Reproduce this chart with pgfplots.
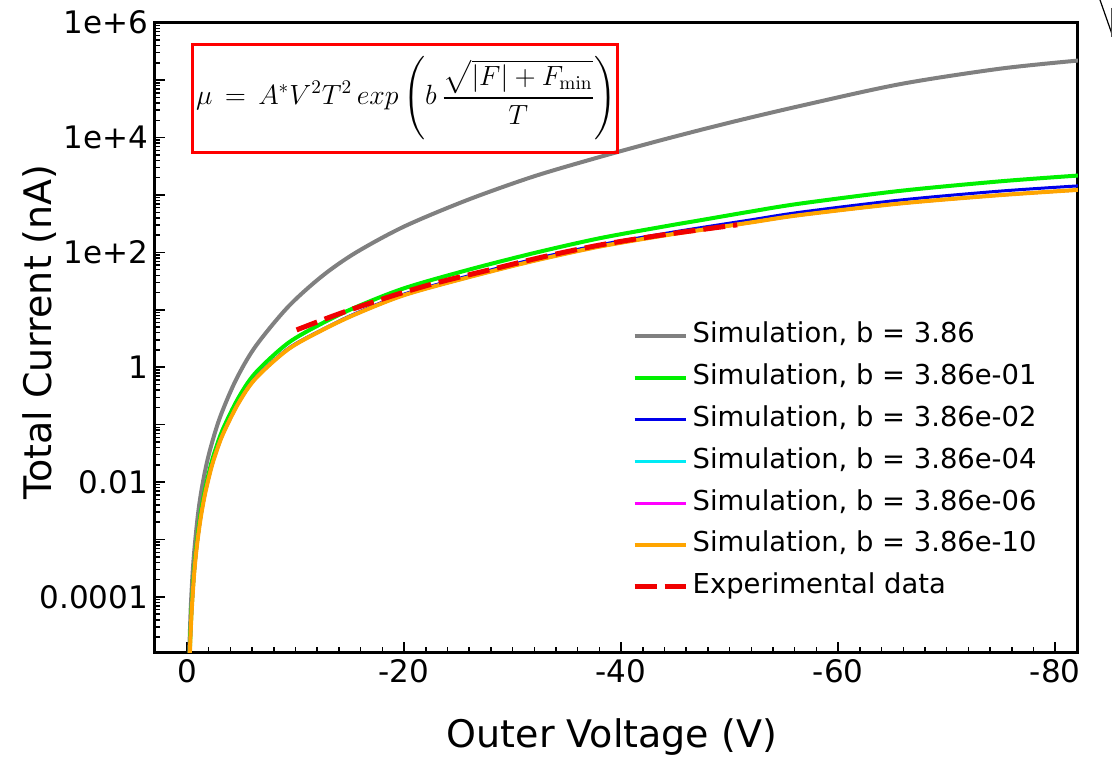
\documentclass[border=0pt]{standalone}
\usepackage[no-math]{fontspec}
\setmainfont{DejaVu Sans}
\usepackage{amsmath}
\usepackage{pgfplots}
\pgfplotsset{compat=1.18}

\definecolor{simgray}{RGB}{128,128,128}
\definecolor{simgreen}{RGB}{0,240,0}
\definecolor{simblue}{RGB}{0,0,235}
\definecolor{simcyan}{RGB}{0,235,245}
\definecolor{simmagenta}{RGB}{255,0,255}
\definecolor{simorange}{RGB}{255,165,0}
\definecolor{expred}{RGB}{240,0,0}

% the three nearly identical low-b curves (cyan, magenta, orange)
\pgfplotstableread{
V       I
-0.2    3.9e-6
-0.3    1.6e-5
-0.43   5.6e-5
-0.65   2.4e-4
-0.9    7.4e-4
-1.25   2.3e-3
-1.66   6.2e-3
-2.2    0.0166
-2.6    0.0295
-3.3    0.0676
-4.7    0.229
-6.3    0.631
-9.3    2.04
-12.4   4.37
-15.5   8.32
-20     18.0
-25.8   36.3
-31.9   70.8
-38     126
-44.2   200
-47.3   245
-51.9   331
-56.5   447
-65.7   710
-74.9   993
-82.1   1225
}\lowb

\begin{document}
\begin{tikzpicture}
  \path[use as bounding box] (-77.5pt,-53pt) rectangle (478.5pt,326pt);
  \begin{axis}[
      at={(0pt,0pt)}, anchor=south west,
      width=461.5pt, height=314.65pt, scale only axis,
      xmin=-82.1, xmax=2.95, x dir=reverse,
      ymode=log, ymin=1.1e-5, ymax=1e6,
      xtick={0,-20,-40,-60,-80},
      xticklabels={0,-20,-40,-60,-80},
      minor x tick num=9,
      ytick={1e-4,1e-3,1e-2,1e-1,1,1e1,1e2,1e3,1e4,1e5,1e6},
      yticklabels={0.0001,,0.01,,1,,1e+2,,1e+4,,1e+6},
      minor ytick={2e-5,3e-5,4e-5,5e-5,6e-5,7e-5,8e-5,9e-5,
        2e-4,3e-4,4e-4,5e-4,6e-4,7e-4,8e-4,9e-4,
        2e-3,3e-3,4e-3,5e-3,6e-3,7e-3,8e-3,9e-3,
        2e-2,3e-2,4e-2,5e-2,6e-2,7e-2,8e-2,9e-2,
        0.2,0.3,0.4,0.5,0.6,0.7,0.8,0.9,
        2,3,4,5,6,7,8,9,
        20,30,40,50,60,70,80,90,
        200,300,400,500,600,700,800,900,
        2e3,3e3,4e3,5e3,6e3,7e3,8e3,9e3,
        2e4,3e4,4e4,5e4,6e4,7e4,8e4,9e4,
        2e5,3e5,4e5,5e5,6e5,7e5,8e5,9e5},
      tick pos=left,
      tick align=inside,
      major tick length=5pt, minor tick length=2.5pt,
      every tick/.style={black, line width=0.75pt},
      axis line style={line width=1.5pt},
      ticklabel style={font=\fontsize{15.5}{18}\selectfont},
      xlabel={Outer Voltage (V)},
      ylabel={Total Current (nA)},
      label style={font=\fontsize{19}{22}\selectfont},
      xlabel style={at={(axis description cs:0.495,-0.135)}, anchor=center},
      ylabel style={at={(axis description cs:-0.1246,0.5085)}, anchor=center},
      legend cell align=left,
      legend image code/.code={\draw[#1] (0pt,0pt) -- (25.8pt,0pt);},
      legend style={
        draw=none, fill=none, inner sep=0pt,
        at={(axis description cs:0.5165,0.5235)}, anchor=north west,
        font=\fontsize{13.7}{16}\selectfont,
        row sep=7.9pt,
        nodes={inner ysep=0pt, text height=10pt, text depth=3pt},
      },
    ]
    % b = 3.86
    \addplot[simgray, line width=2pt, smooth] coordinates {
      (-0.2,9.3e-6) (-0.35,6.67e-5) (-0.6,4.4e-4) (-1.0,2.63e-3) (-1.4,8.53e-3)
      (-2.0,0.0297) (-3.0,0.128) (-4.5,0.597) (-6.3,2.29)
      (-9.3,11.2) (-12.4,38.0) (-15.5,97.7) (-20,282) (-25.8,813)
      (-31.9,2090) (-38,4570) (-44,9330) (-50,18200) (-56.5,35500)
      (-65.7,85100) (-74.9,158000) (-82.1,219000)
    };
    \addlegendentry{Simulation, b = 3.86}
    % b = 3.86e-01
    \addplot[simgreen, line width=2pt, smooth] coordinates {
      (-0.2,4.57e-6) (-0.3,1.88e-5) (-0.43,6.6e-5) (-0.65,2.8e-4) (-0.9,8.77e-4)
      (-1.25,2.77e-3) (-1.66,7.46e-3) (-2.2,0.02) (-2.6,0.0359) (-3.3,0.0828)
      (-4.7,0.285) (-6.3,0.794)
      (-9.3,2.63) (-12.4,5.75) (-15.5,11.0) (-20,23.7) (-25.8,49.0)
      (-31.9,96.6) (-38,176) (-44.2,288) (-47.3,363) (-51.9,513)
      (-56.5,708) (-65.7,1178) (-74.9,1726) (-82.1,2178)
    };
    \addlegendentry{Simulation, b = 3.86e-01}
    % b = 3.86e-02
    \addplot[simblue, line width=1.5pt, smooth] coordinates {
      (-0.2,4.0e-6) (-0.3,1.63e-5) (-0.43,5.7e-5) (-0.65,2.45e-4) (-0.9,7.55e-4)
      (-1.25,2.35e-3) (-1.66,6.33e-3) (-2.2,0.0169) (-2.6,0.0301) (-3.3,0.069)
      (-4.7,0.234) (-6.3,0.65)
      (-9.3,2.11) (-12.4,4.47) (-15.5,8.61) (-20,18.8) (-25.8,38.5)
      (-31.9,75.9) (-38,135) (-44.2,216) (-47.3,269) (-51.9,367)
      (-56.5,501) (-65.7,815) (-74.9,1167) (-82.1,1439)
    };
    \addlegendentry{Simulation, b = 3.86e-02}
    % b = 3.86e-04
    \addplot[simcyan, line width=1.5pt, smooth] table[x=V, y=I] {\lowb};
    \addlegendentry{Simulation, b = 3.86e-04}
    % b = 3.86e-06
    \addplot[simmagenta, line width=1.5pt, smooth] table[x=V, y=I] {\lowb};
    \addlegendentry{Simulation, b = 3.86e-06}
    % b = 3.86e-10
    \addplot[simorange, line width=2pt, smooth] table[x=V, y=I] {\lowb};
    \addlegendentry{Simulation, b = 3.86e-10}
    % measurement
    \addplot[expred, line width=2.5pt, dash pattern=on 11pt off 4pt, smooth] coordinates {
      (-10.1,4.47) (-14,8.51) (-18.7,17.0) (-23,29.5) (-28.4,52.5)
      (-33,85.1) (-38.1,135) (-44,204) (-50.7,302)
    };
    \addlegendentry{Experimental data}

    \draw[red, line width=1.5pt] (rel axis cs:0.0401,0.7945) rectangle (rel axis cs:0.5016,0.9661);
    \node[scale=0.965] at (rel axis cs:0.2725,0.8803) {\fontsize{14.3}{17}\selectfont
      $\displaystyle \mu\,=\,A^{*}V^{2}T^{2}\,exp\left(b\,\frac{\sqrt{|F|+F_{\min}}}{T}\right)$};
  \end{axis}
  % stray strokes at the top right corner of the source image
  \draw[black, line width=0.6pt] (472.5pt,326pt) -- (478.3pt,309.5pt);
  \draw[black!70, line width=0.6pt] (478.2pt,322pt) -- (478.2pt,307.5pt);
\end{tikzpicture}
\end{document}
